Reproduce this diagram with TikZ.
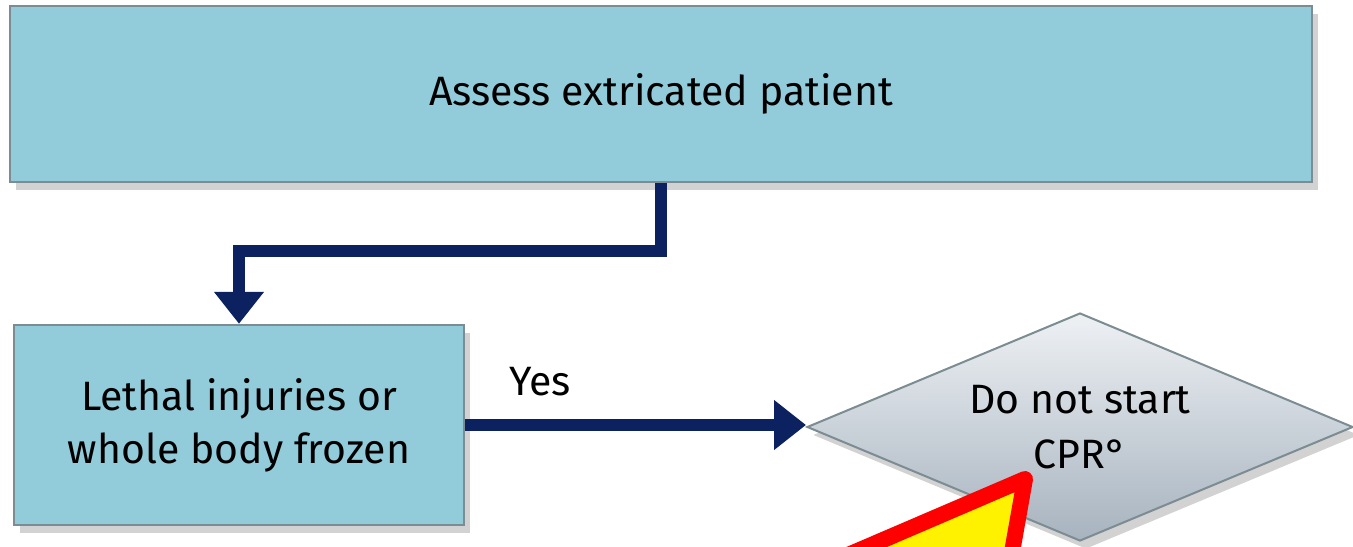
\documentclass[tikz,border=0pt]{standalone}
\usepackage{fontspec}
\setmainfont{Fira Sans}
\usetikzlibrary{arrows.meta,shapes.geometric,shadows}

\definecolor{boxblue}{HTML}{92CCDB}
\definecolor{boxedge}{HTML}{7B8C92}
\definecolor{flownavy}{HTML}{0C2160}
\definecolor{diatop}{HTML}{EEF1F4}
\definecolor{diabot}{HTML}{A7B3BF}

\tikzset{
  StepBox/.style = {
    draw = boxedge,
    line width = 1.2pt,
    fill = boxblue,
    align = center,
    inner sep = 0pt,
    font = \fontsize{20.5}{26.5}\selectfont,
    drop shadow = {shadow xshift=3pt, shadow yshift=-4pt, opacity=0.35}},
  DecisionBox/.style = {
    shape = diamond,
    aspect = 2.4,
    draw = boxedge,
    line width = 1pt,
    top color = diatop,
    bottom color = diabot,
    align = center,
    inner sep = 0pt,
    font = \fontsize{20.5}{27.5}\selectfont,
    drop shadow = {shadow xshift=3pt, shadow yshift=-4pt, opacity=0.35}},
  FlowArrow/.style = {
    draw = flownavy,
    line width = 6pt,
    -{Triangle[length=16pt, width=24pt]}},
  WarnTri/.style = {
    draw = red,
    fill = yellow,
    line width = 8pt,
    line join = round}
}

\begin{document}
\begin{tikzpicture}[x=0.5pt, y=-0.5pt]
\useasboundingbox[fill=white] (0,0) rectangle (1353,546);

% boxes
\node[StepBox, minimum width=651pt, minimum height=88pt] (assess) at (661,94) {Assess extricated patient};
\node[StepBox, minimum width=225pt, minimum height=100pt] (lethal) at (239,425) {Lethal injuries or\\whole body frozen};
\node[DecisionBox, minimum width=273pt, minimum height=114pt] (nocpr) at (1080,427) {Do not start\\CPR°};

% connectors
\coordinate (bend) at (661,251);
\draw[FlowArrow] (assess.south) -- (bend) -| (lethal.north);
\draw[FlowArrow] (lethal.east) -- (lethal.east -| nocpr.west);
\node[font=\fontsize{20.5}{26.5}\selectfont] (yes) at (540,382) {Yes};

% warning sign
\begin{scope}
\clip (0,0) rectangle (1353,546);
\draw[WarnTri] (1025,479) -- (657,637) -- (955,873) -- cycle;
\end{scope}

\end{tikzpicture}
\end{document}
